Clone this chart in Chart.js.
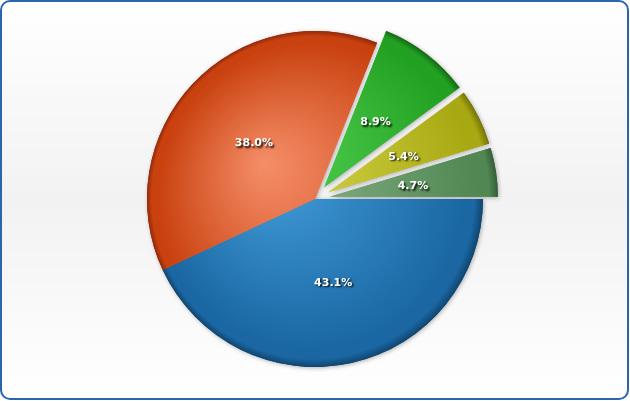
<!DOCTYPE html>
<html>
<head>
<meta charset="utf-8">
<script src="https://cdn.jsdelivr.net/npm/chart.js@4.4.1/dist/chart.umd.min.js"></script>
<style>
  html, body { margin: 0; padding: 0; background: #fff; }
  #panel {
    position: absolute; left: 0; top: 0;
    width: 629px; height: 400px; box-sizing: border-box;
    border: 2px solid #2a65ae; border-radius: 10px;
    background: linear-gradient(#ffffff 0%, #f2f2f2 50%, #ffffff 100%);
  }
  #wrap { position: absolute; left: 0; top: 0; width: 630px; height: 401px; }
</style>
</head>
<body>
<div id="panel"></div>
<div id="wrap"><canvas id="pieChart"></canvas></div>
<script>
// Valores das fatias (em %)
const categories = ['Item 1', 'Item 2', 'Item 3', 'Item 4', 'Item 5'];
const values = [43.1, 38.0, 8.9, 5.4, 4.7];

// cores: claro / base / borda
const lightColors = ['#44a0dc', '#f58e68', '#50d050', '#d6d64a', '#8ab48a'];
const baseColors  = ['#1a67a3', '#c9410f', '#22a022', '#a8a812', '#508752'];
const rimColors   = ['#10456f', '#93290a', '#146a14', '#747406', '#355e37'];
const offsets = [0, 0, 15, 15, 15]; // fatias destacadas (px)
const R = 168;

const total = values.reduce((a, b) => a + b, 0);

function sliceCenter(chart, i) {
  const area = chart.chartArea;
  const cx = (area.left + area.right) / 2;
  const cy = (area.top + area.bottom) / 2;
  let before = 0;
  for (let k = 0; k < i; k++) before += values[k];
  const mid = (before + values[i] / 2) / total * Math.PI * 2;
  return {
    dx: Math.cos(mid) * offsets[i], dy: Math.sin(mid) * offsets[i],
    x: cx + Math.cos(mid) * offsets[i], y: cy + Math.sin(mid) * offsets[i], mid: mid
  };
}

function sliceFill(context) {
  const chart = context.chart;
  const i = context.dataIndex;
  if (!chart.chartArea) return baseColors[i];
  // gradiente no sistema não deslocado (a fatia é transladada ao desenhar)
  const c = sliceCenter(chart, i);
  const cx = c.x - c.dx, cy = c.y - c.dy;
  const g = chart.ctx.createRadialGradient(cx - 52, cy - 36, 0, cx, cy, R);
  g.addColorStop(0, lightColors[i]);
  g.addColorStop(0.91, baseColors[i]);
  g.addColorStop(0.96, baseColors[i]);
  g.addColorStop(1, rimColors[i]);
  return g;
}

// desenha as fatias com sombra e deslocamento
const explodePlugin = {
  id: 'explode',
  beforeDatasetDraw(chart, args) {
    const ctx = chart.ctx;
    const arcs = chart.getDatasetMeta(args.index).data;
    // sombra primeiro, por baixo de tudo
    ctx.save();
    ctx.shadowColor = 'rgba(0,0,0,0.3)';
    ctx.shadowBlur = 4;
    ctx.shadowOffsetX = 1;
    ctx.shadowOffsetY = 1;
    arcs.forEach((arc, i) => {
      const c = sliceCenter(chart, i);
      ctx.save();
      ctx.translate(c.dx, c.dy);
      arc.draw(ctx);
      ctx.restore();
    });
    ctx.restore();
    arcs.forEach((arc, i) => {
      const c = sliceCenter(chart, i);
      ctx.save();
      ctx.translate(c.dx, c.dy);
      arc.draw(ctx);
      ctx.restore();
    });
    return false;
  }
};

// rótulos de percentagem
const labelPlugin = {
  id: 'pctLabels',
  afterDatasetsDraw(chart) {
    const ctx = chart.ctx;
    ctx.save();
    ctx.font = 'bold 11px "DejaVu Sans"';
    ctx.textAlign = 'center';
    ctx.textBaseline = 'middle';
    ctx.fillStyle = '#ffffff';
    ctx.shadowColor = 'rgba(0,0,0,0.95)';
    ctx.shadowBlur = 2;
    ctx.shadowOffsetX = 1.5;
    ctx.shadowOffsetY = 1.5;
    values.forEach((v, i) => {
      const c = sliceCenter(chart, i);
      const x = c.x + Math.cos(c.mid) * R * 0.5;
      const y = c.y + Math.sin(c.mid) * R * 0.5 + 2;
      ctx.fillText(v.toFixed(1) + '%', x, y);
    });
    ctx.restore();
  }
};

new Chart(document.getElementById('pieChart'), {
  type: 'pie',
  data: {
    labels: categories,
    datasets: [{
      data: values,
      backgroundColor: sliceFill,
      borderWidth: 0,
      hoverOffset: 0,
      radius: R
    }]
  },
  options: {
    responsive: true,
    maintainAspectRatio: false,
    animation: false,
    rotation: 90,
    layout: { padding: { top: 0, bottom: 3, left: 0, right: 0 } },
    events: [],
    plugins: {
      legend: { display: false },
      tooltip: { enabled: false }
    }
  },
  plugins: [explodePlugin, labelPlugin]
});
</script>
</body>
</html>
